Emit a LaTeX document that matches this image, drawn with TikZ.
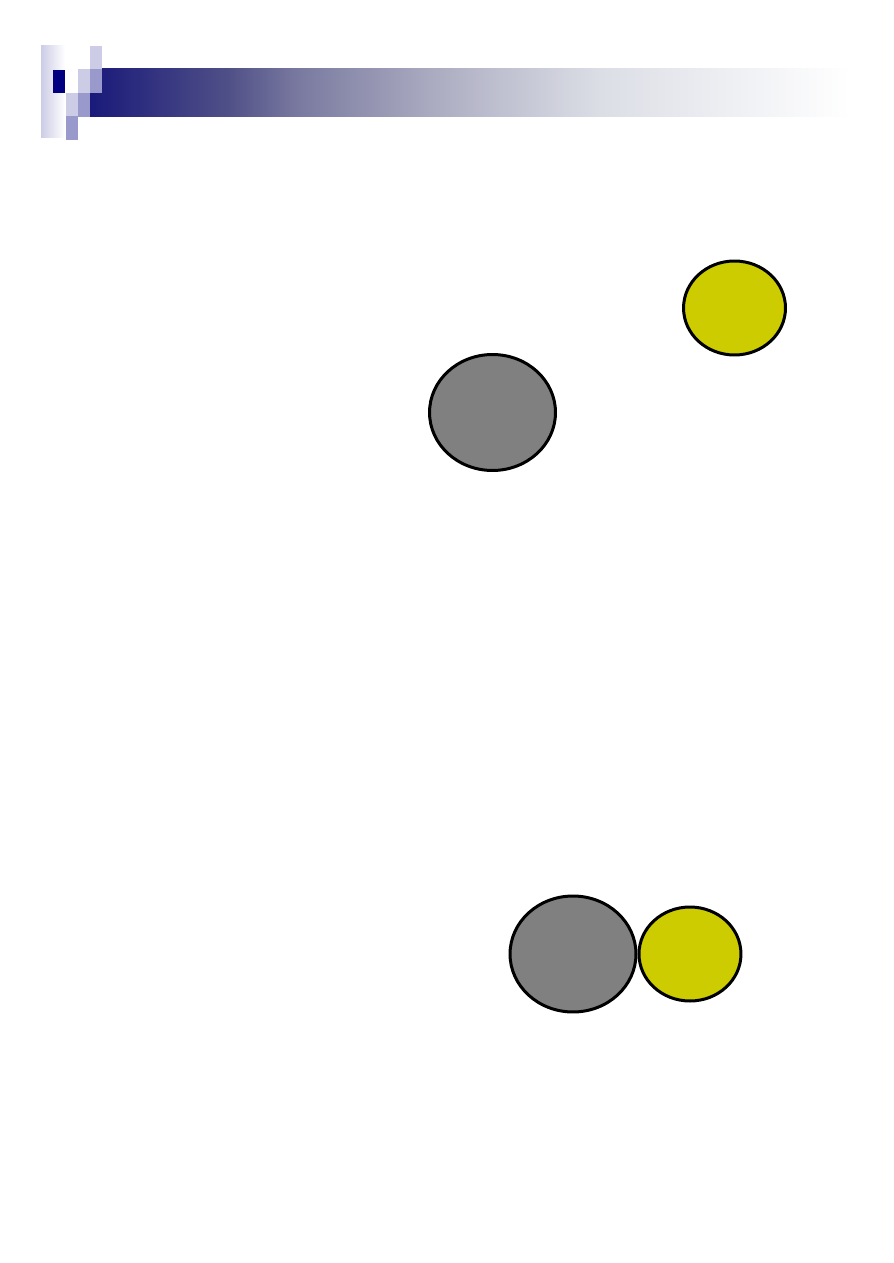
\documentclass[tikz,border=0pt]{standalone}
\usepackage{tikz}
\usetikzlibrary{shapes.geometric}

\definecolor{navy}{RGB}{0,0,128}
\definecolor{lightpix}{RGB}{204,204,230}
\definecolor{midpix}{RGB}{153,153,204}
\definecolor{ballgray}{RGB}{128,128,128}
\definecolor{ballyellow}{RGB}{204,204,0}

\pgfdeclarehorizontalshading{titlebar}{100bp}{rgb(0bp)=(0.1,0.1,0.48); rgb(25bp)=(0.1,0.1,0.48); rgb(34bp)=(0.31,0.31,0.53); rgb(38.8bp)=(0.48,0.48,0.63); rgb(48.5bp)=(0.69,0.69,0.77); rgb(58.5bp)=(0.86,0.87,0.9); rgb(75bp)=(1,1,1); rgb(100bp)=(1,1,1)}

\begin{document}
\begin{tikzpicture}[x=0.02cm, y=-0.02cm,
    ball/.style={ellipse, draw=black, line width=0.06cm, inner sep=0pt},
    grayball/.style={ball, fill=ballgray, minimum width=2.52cm, minimum height=2.32cm},
    yellowball/.style={ball, fill=ballyellow, minimum width=2.04cm, minimum height=1.88cm}]
    \useasboundingbox (0,0) rectangle (893,1263);

    % title bar
    \shade[shading=titlebar] (90,69) rectangle (850,117);
    \shade[left color=lightpix, right color=white] (41,46) rectangle (65,138);
    \fill[navy] (53,70) rectangle (65,93);
    \foreach \x/\y in {90/46, 78/69, 66/93}
      \fill[lightpix] (\x,\y) rectangle ++(12,24);
    \foreach \x/\y in {90/69, 78/93, 66/116}
      \fill[midpix] (\x,\y) rectangle ++(12,24);

    % balls apart
    \node[yellowball] (yellowA) at (734.5,308) {};
    \node[grayball] (grayA) at (492.5,412.5) {};

    % balls touching
    \node[grayball] (grayB) at (573,954) {};
    \node[yellowball, anchor=west] (yellowB) at (grayB.east) {};
\end{tikzpicture}
\end{document}
